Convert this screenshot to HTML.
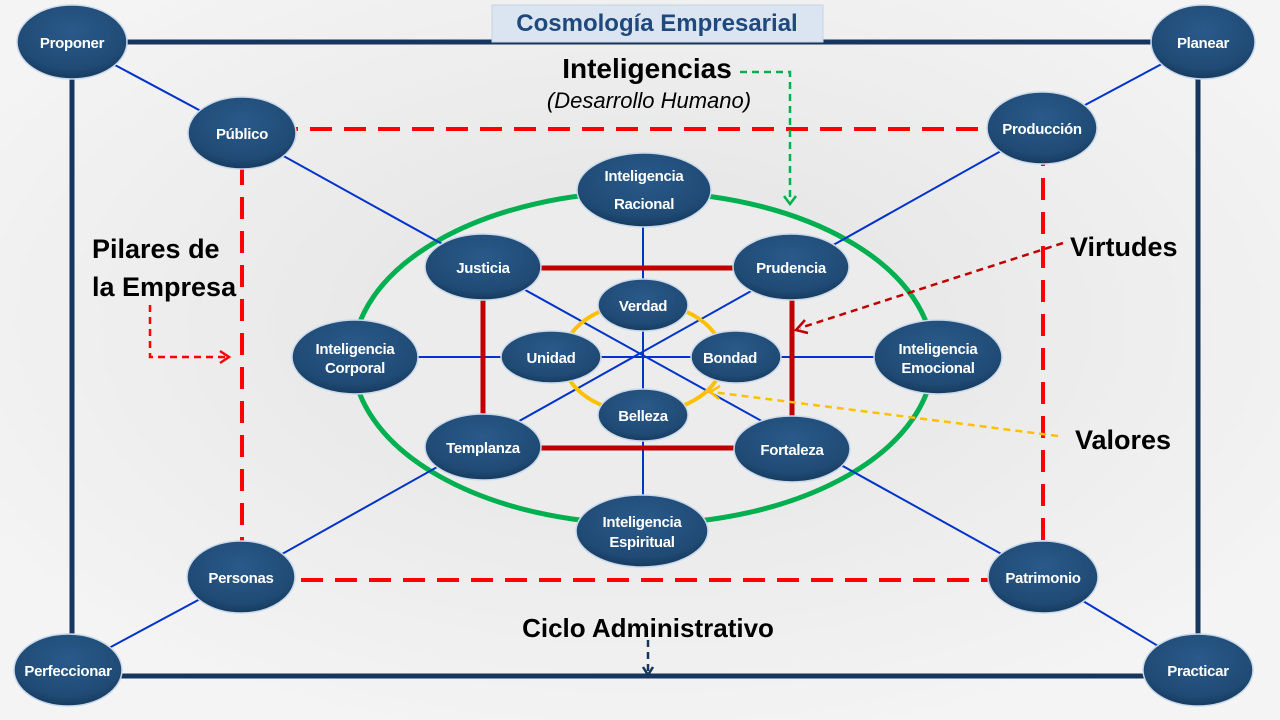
<!DOCTYPE html>
<html><head><meta charset="utf-8"><style>
html,body{margin:0;padding:0;background:#fff}
svg{display:block}
.n text{font-family:"Liberation Sans Narrow","Liberation Sans",sans-serif;font-weight:bold;fill:#fff;font-size:15px;text-anchor:middle;letter-spacing:-0.3px}
.lbl{font-family:"Liberation Sans",sans-serif;font-weight:bold;fill:#000}
</style></head><body>
<svg width="1280" height="720" viewBox="0 0 1280 720" xmlns="http://www.w3.org/2000/svg">
<defs>
<radialGradient id="g" cx="50%" cy="35%" r="65%">
<stop offset="0" stop-color="#2a5a8a"/><stop offset="0.8" stop-color="#1f4a74"/><stop offset="1" stop-color="#173a5e"/>
</radialGradient>
<radialGradient id="bg" cx="50%" cy="45%" r="60%">
<stop offset="0" stop-color="#e2e2e2"/><stop offset="1" stop-color="#f4f4f4"/>
</radialGradient>
</defs>
<rect width="1280" height="720" fill="url(#bg)"/>
<ellipse cx="643" cy="358" rx="290" ry="166" fill="#ececec" stroke="#00b050" stroke-width="5"/>
<rect x="72" y="42" width="1126" height="634" fill="none" stroke="#17365d" stroke-width="5"/>
<rect x="242" y="129" width="801" height="451" fill="none" stroke="#ff0000" stroke-width="4" stroke-dasharray="22,12"/>
<g stroke="#0033cc" stroke-width="2">
<line x1="72" y1="42" x2="242" y2="133"/>
<line x1="1203" y1="42" x2="1042" y2="128"/>
<line x1="68" y1="670" x2="241" y2="577"/>
<line x1="1198" y1="670" x2="1043" y2="577"/>
<line x1="242" y1="133" x2="1043" y2="577"/>
<line x1="1042" y1="128" x2="241" y2="577"/>
<line x1="643" y1="190" x2="643" y2="531"/>
<line x1="355" y1="357" x2="938" y2="357"/>
</g>
<rect x="483" y="268" width="309" height="180" fill="none" stroke="#c00000" stroke-width="5"/>
<ellipse cx="643" cy="358" rx="80" ry="55" fill="none" stroke="#ffc000" stroke-width="4"/>
<rect x="492" y="5" width="331" height="37" fill="#dbe5f1" stroke="#c6d3e3"/>
<text x="657" y="31" text-anchor="middle" font-family="Liberation Sans,sans-serif" font-weight="bold" font-size="24" fill="#1f497d">Cosmología Empresarial</text>
<text class="lbl" x="647" y="78" text-anchor="middle" font-size="28">Inteligencias</text>
<text x="649" y="108" text-anchor="middle" font-family="Liberation Sans,sans-serif" font-style="italic" font-size="22" fill="#000">(Desarrollo Humano)</text>
<text class="lbl" x="92" y="258" font-size="27">Pilares de</text>
<text class="lbl" x="92" y="296" font-size="27">la Empresa</text>
<text class="lbl" x="1070" y="256" font-size="27">Virtudes</text>
<text class="lbl" x="1075" y="449" font-size="27">Valores</text>
<text class="lbl" x="648" y="637" text-anchor="middle" font-size="26">Ciclo Administrativo</text>
<g fill="none" stroke-width="2.5" stroke-dasharray="7,5">
<polyline points="740,72 790,72 790,202" stroke="#00b050"/>
<polyline points="150,305 150,357 226,357" stroke="#ff0000"/>
<line x1="1063" y1="243" x2="800" y2="328" stroke="#c00000"/>
<line x1="1058" y1="436" x2="712" y2="392" stroke="#ffc000"/>
<line x1="648" y1="640" x2="648" y2="672" stroke="#17365d"/>
</g>
<g fill="none" stroke-width="2.5">
<polyline points="784,196 790,204 796,196" stroke="#00b050"/>
<polyline points="220,351 229,357 220,363" stroke="#ff0000"/>
<polyline points="805,320 796,330 808,333" stroke="#c00000"/>
<polyline points="720,386 710,392 719,399" stroke="#ffc000"/>
<polyline points="643,667 648,675 653,667" stroke="#17365d"/>
</g>
<g class="n" stroke="#c9d9ea" stroke-width="1.5" fill="url(#g)">
<ellipse cx="72" cy="42" rx="55" ry="37"/>
<ellipse cx="1203" cy="42" rx="52" ry="37"/>
<ellipse cx="68" cy="670" rx="54" ry="36"/>
<ellipse cx="1198" cy="670" rx="55" ry="36"/>
<ellipse cx="242" cy="133" rx="54" ry="36"/>
<ellipse cx="1042" cy="128" rx="55" ry="36"/>
<ellipse cx="241" cy="577" rx="54" ry="36"/>
<ellipse cx="1043" cy="577" rx="55" ry="36"/>
<ellipse cx="644" cy="190" rx="67" ry="37"/>
<ellipse cx="355" cy="357" rx="63" ry="37"/>
<ellipse cx="938" cy="357" rx="64" ry="37"/>
<ellipse cx="642" cy="531" rx="66" ry="36"/>
<ellipse cx="483" cy="267" rx="58" ry="33"/>
<ellipse cx="791" cy="267" rx="58" ry="33"/>
<ellipse cx="483" cy="447" rx="58" ry="33"/>
<ellipse cx="792" cy="449" rx="58" ry="33"/>
<ellipse cx="643" cy="305" rx="45" ry="26"/>
<ellipse cx="551" cy="357" rx="50" ry="26"/>
<ellipse cx="736" cy="357" rx="45" ry="26"/>
<ellipse cx="643" cy="415" rx="45" ry="26"/>
</g>
<g class="n" stroke="none">
<text x="72" y="48">Proponer</text>
<text x="1203" y="48">Planear</text>
<text x="68" y="676">Perfeccionar</text>
<text x="1198" y="676">Practicar</text>
<text x="242" y="139">Público</text>
<text x="1042" y="134">Producción</text>
<text x="241" y="583">Personas</text>
<text x="1043" y="583">Patrimonio</text>
<text x="644" y="181">Inteligencia</text>
<text x="644" y="209">Racional</text>
<text x="355" y="354">Inteligencia</text>
<text x="355" y="373">Corporal</text>
<text x="938" y="354">Inteligencia</text>
<text x="938" y="373">Emocional</text>
<text x="642" y="527">Inteligencia</text>
<text x="642" y="547">Espiritual</text>
<text x="483" y="273">Justicia</text>
<text x="791" y="273">Prudencia</text>
<text x="483" y="453">Templanza</text>
<text x="792" y="455">Fortaleza</text>
<text x="643" y="311">Verdad</text>
<text x="551" y="363">Unidad</text>
<text x="730" y="363">Bondad</text>
<text x="643" y="421">Belleza</text>
</g>
</svg>
</body></html>
